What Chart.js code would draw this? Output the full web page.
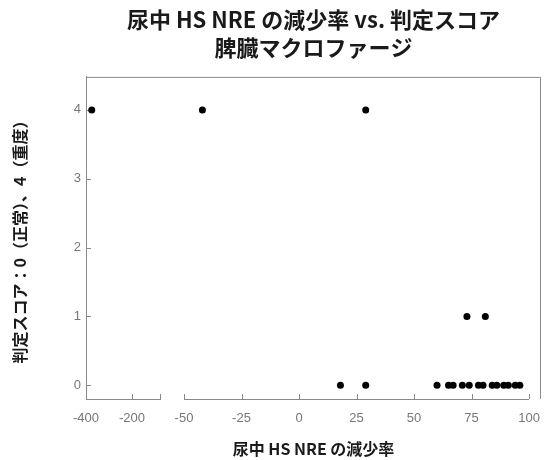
<!DOCTYPE html>
<html>
<head>
<meta charset="utf-8">
<script src="https://cdn.jsdelivr.net/npm/chart.js@4"></script>
<style>
  html, body { margin: 0; padding: 0; background: #fff; }
  #wrap { width: 549px; height: 460px; }
</style>
</head>
<body>
<div id="wrap"><canvas id="scoreChart"></canvas></div>
<script>
// ---- data ----
const titleLines = ["尿中 HS NRE の減少率 vs. 判定スコア", "脾臓マクロファージ"];
const xTitle = "尿中 HS NRE の減少率";
const yTitle = "判定スコア：0（正常）、4（重度）";

const reductionRate = [-375, -42, 29, 73, 81, 18, 29, 60, 65, 67, 71, 74, 78, 80, 84, 86, 89, 91, 94, 96];
const judgeScore    = [4,     4,  4,  1,  1,  0,  0,  0,  0,  0,  0,  0,  0,  0,  0,  0,  0,  0,  0,  0];

const breakValue = -60;          // values below this go on the left (compressed) segment
const leftTicks = [-400, -200];
const leftRange = [-400, -78];
const rightTicks = [-50, -25, 0, 25, 50, 75, 100];
const rightRange = [-50, 105.2];
const scoreTicks = [0, 1, 2, 3, 4];
const scoreRange = [-0.2, 4.48];

const AXIS_GREY = "#8a8a8a";
const TICK_FONT = { family: "'Liberation Sans', sans-serif", size: 13 };
const CJK = "'Noto Sans CJK JP', sans-serif";

const leftPoints = [];
const rightPoints = [];
reductionRate.forEach((x, i) => {
  const p = { x, y: judgeScore[i] };
  (x < breakValue ? leftPoints : rightPoints).push(p);
});

const fixTicks = values => scale => { scale.ticks = values.map(v => ({ value: v })); };

// frame on top/right, inward tick marks, right axis line that stops at 100
const framePlugin = {
  id: "frame",
  beforeDatasetsDraw(chart) {
    const { ctx, chartArea: a, scales } = chart;
    ctx.save();
    ctx.strokeStyle = AXIS_GREY;
    ctx.lineWidth = 1;
    ctx.beginPath();
    ctx.moveTo(a.left, a.top + 0.5);
    ctx.lineTo(a.right - 0.5, a.top + 0.5);
    ctx.lineTo(a.right - 0.5, a.bottom);
    // right axis line
    const xr = scales.xr;
    ctx.moveTo(xr.left, a.bottom + 0.5);
    ctx.lineTo(xr.getPixelForValue(rightTicks[rightTicks.length - 1]), a.bottom + 0.5);
    // inward ticks
    scales.y.ticks.forEach(t => {
      const py = Math.round(scales.y.getPixelForValue(t.value)) + 0.5;
      ctx.moveTo(a.left, py);
      ctx.lineTo(a.left + 5, py);
    });
    ["xl", "xr"].forEach(id => {
      scales[id].ticks.forEach(t => {
        const px = Math.round(scales[id].getPixelForValue(t.value)) + 0.5;
        ctx.moveTo(px, a.bottom);
        ctx.lineTo(px, a.bottom - 5);
      });
    });
    ctx.stroke();
    ctx.restore();
  },
};

const xCommon = {
  type: "linear",
  position: "bottom",
  stack: "x",
  afterFit: s => { s.height = 30; s.paddingLeft = 0; s.paddingRight = 0; },
  grid: { display: false, drawTicks: false },
  ticks: { color: "#777", font: TICK_FONT, padding: 12, maxRotation: 0, autoSkip: false },
};

new Chart(document.getElementById("scoreChart"), {
  type: "scatter",
  data: {
    datasets: [
      { data: leftPoints, xAxisID: "xl", yAxisID: "y" },
      { data: rightPoints, xAxisID: "xr", yAxisID: "y" },
    ],
  },
  options: {
    responsive: true,
    maintainAspectRatio: false,
    animation: false,
    layout: { padding: { left: 0, right: 8, top: 0, bottom: 0 } },
    elements: {
      point: { radius: 3.5, backgroundColor: "#000", borderWidth: 0, hoverRadius: 3.5 },
    },
    plugins: {
      legend: { display: false },
      tooltip: { enabled: false },
      title: {
        display: true,
        text: titleLines,
        fullSize: false,
        color: "#1a1a1a",
        font: { family: CJK, size: 22, weight: "bold", lineHeight: 1.27 },
        padding: { top: 6, bottom: 15 },
      },
      subtitle: {
        display: true,
        position: "bottom",
        text: xTitle,
        fullSize: false,
        color: "#1a1a1a",
        font: { family: CJK, size: 16, weight: "bold", lineHeight: 1.2 },
        padding: { top: 10.4, bottom: 1.4 },
      },
    },
    scales: {
      xl: {
        ...xCommon,
        stackWeight: 74,
        min: leftRange[0],
        max: leftRange[1],
        afterBuildTicks: fixTicks([...leftTicks, leftRange[1]]),
        ticks: {
          ...xCommon.ticks,
          callback: v => (leftTicks.includes(v) ? String(v) : ""),
        },
        border: { display: true, color: AXIS_GREY },
      },
      xgap: {
        ...xCommon,
        stackWeight: 24,
        grid: { display: false, drawTicks: false },
        border: { display: false },
        ticks: { display: false },
      },
      xr: {
        ...xCommon,
        stackWeight: 357,
        min: rightRange[0],
        max: rightRange[1],
        afterBuildTicks: fixTicks(rightTicks),
        border: { display: false },
      },
      y: {
        type: "linear",
        position: "left",
        min: scoreRange[0],
        max: scoreRange[1],
        afterBuildTicks: fixTicks(scoreTicks),
        afterFit: s => { s.width = 86; s.paddingTop = 0; s.paddingBottom = 0; },
        grid: { display: false, drawTicks: false },
        border: { display: true, color: AXIS_GREY },
        ticks: { color: "#777", font: TICK_FONT, padding: 5 },
        title: {
          display: true,
          text: yTitle,
          color: "#1a1a1a",
          font: { family: CJK, size: 16, weight: "bold", lineHeight: 1.2 },
          padding: { top: 10.4, bottom: 0 },
        },
      },
    },
  },
  plugins: [framePlugin],
});
</script>
</body>
</html>
